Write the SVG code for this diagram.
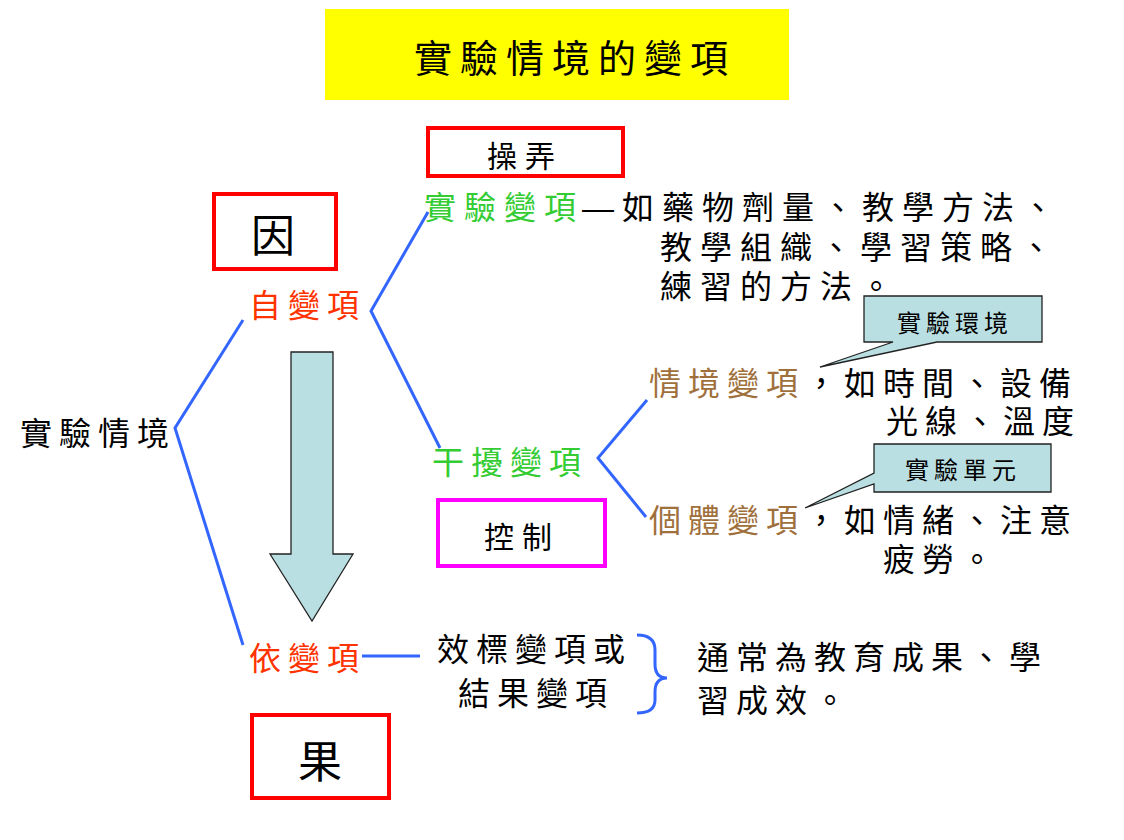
<svg xmlns="http://www.w3.org/2000/svg" width="1124" height="840" viewBox="0 0 1124 840">
<style>
text{font-family:"Liberation Sans","Noto Sans CJK TC","Noto Sans CJK SC",sans-serif;}
.t{font-size:32px;letter-spacing:7px;fill:#000;}
.w{letter-spacing:8px;}
.g{fill:#33CC33;}
.r{fill:#FF3300;}
.b{fill:#A0703C;}
.box{fill:#fff;stroke-width:4;}
.bt{font-size:30px;letter-spacing:8px;fill:#000;}
.ln{fill:none;stroke:#3366FF;stroke-width:3;}
.cl{fill:#BADFE2;stroke:#222;stroke-width:1.3;}
.ct{font-size:24px;letter-spacing:5px;fill:#000;}
</style>
<rect width="1124" height="840" fill="#fff"/>
<g id="title">
<rect x="325" y="9" width="464" height="91" fill="#FFFF00"/>
<text x="414" y="72" style="font-size:38px;letter-spacing:8px">實驗情境的變項</text>
</g>
<g id="connectors">
<polyline class="ln" points="243,320 175,428 243,645"/>
<polyline class="ln" points="428,212 371,311 440,448"/>
<polyline class="ln" points="647,400 598,458 646,517"/>
<line class="ln" x1="362" y1="656" x2="420" y2="656"/>
<path class="ln" d="M637,635 Q655,635 655,650 L655,664 Q655,678 667,678 Q655,678 655,692 L655,700 Q655,713 637,713"/>
</g>
<g id="arrow">
<polygon points="291,352 333,352 333,554 353,554 312,621 270,554 291,554" fill="#BADFE2" stroke="#222" stroke-width="1.3"/>
</g>
<g id="root">
<text class="t" x="20" y="445">實驗情境</text>
</g>
<g id="cause">
<rect class="box" x="214" y="194" width="122" height="75" stroke="#FF0000"/>
<text x="251" y="252" style="font-size:44px">因</text>
</g>
<g id="iv">
<text class="t r" x="249" y="317">自變項</text>
</g>
<g id="manipulate">
<rect class="box" x="428" y="128" width="195" height="48" stroke="#FF0000"/>
<text class="bt" x="487" y="167">操弄</text>
</g>
<g id="experimental-var">
<text class="t w g" x="424" y="219">實驗變項</text>
<text class="t w" x="582" y="219">—如藥物劑量、教學方法、</text>
<text class="t w" x="660" y="259">教學組織、學習策略、</text>
<text class="t w" x="660" y="298">練習的方法。</text>
</g>
<g id="interfering-var">
<text class="t g" x="432" y="474">干擾變項</text>
</g>
<g id="control">
<rect class="box" x="438" y="500" width="167" height="66" stroke="#FF00FF"/>
<text class="bt" x="484" y="548">控制</text>
</g>
<g id="situation-var">
<text class="t b" x="649" y="395">情境變項</text>
<text class="t" x="805" y="395">，如時間、設備</text>
<text class="t" x="886" y="433">光線、溫度</text>
</g>
<g id="callout-env">
<path class="cl" d="M864,296 L1042,296 L1042,342 L937,342 L820,367 L893,342 L864,342 Z"/>
<text class="ct" x="897" y="332">實驗環境</text>
</g>
<g id="individual-var">
<text class="t b" x="649" y="532">個體變項</text>
<text class="t" x="805" y="532">，如情緒、注意</text>
<text class="t" x="883" y="571">疲勞。</text>
</g>
<g id="callout-unit">
<path class="cl" d="M874,444 L1051,444 L1051,492 L874,492 L874,484 L805,508 L874,473 Z"/>
<text class="ct" x="905" y="479">實驗單元</text>
</g>
<g id="dv">
<text class="t r" x="249" y="670">依變項</text>
</g>
<g id="criterion">
<text class="t" x="437" y="661">效標變項或</text>
<text class="t" x="458" y="705">結果變項</text>
</g>
<g id="outcome">
<text class="t" x="697" y="669">通常為教育成果、學</text>
<text class="t" x="697" y="712">習成效。</text>
</g>
<g id="effect">
<rect class="box" x="252" y="715" width="137" height="83" stroke="#FF0000"/>
<text x="298" y="778" style="font-size:44px">果</text>
</g>
</svg>
